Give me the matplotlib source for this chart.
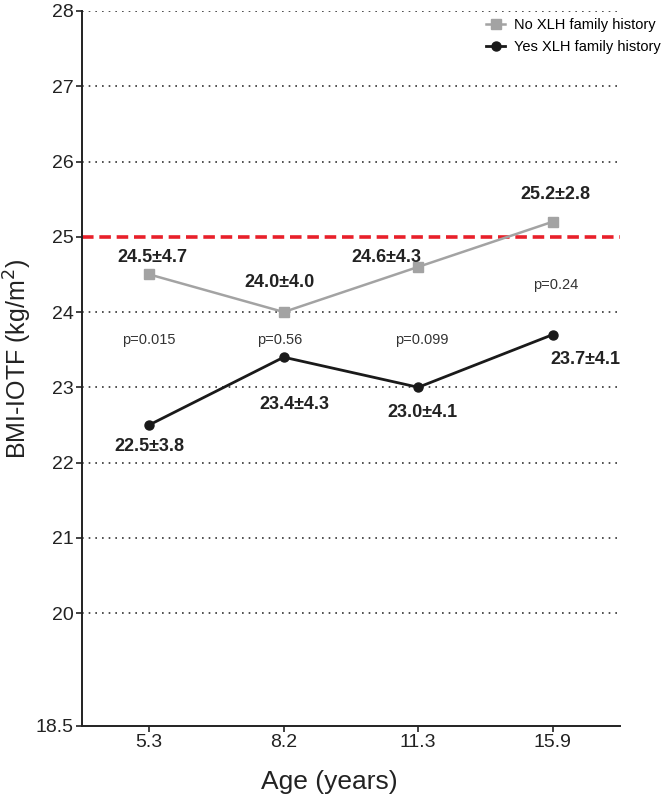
import matplotlib
matplotlib.use("Agg")
import matplotlib.pyplot as plt

plt.rcParams['font.family'] = ['Liberation Sans', 'DejaVu Sans']

ages = ["5.3", "8.2", "11.3", "15.9"]
no_hist = [24.5, 24.0, 24.6, 25.2]
yes_hist = [22.5, 23.4, 23.0, 23.7]
no_labels = ["24.5±4.7", "24.0±4.0", "24.6±4.3", "25.2±2.8"]
yes_labels = ["22.5±3.8", "23.4±4.3", "23.0±4.1", "23.7±4.1"]
p_values = ["p=0.015", "p=0.56", "p=0.099", "p=0.24"]
threshold = 25
y_ticks = [18.5, 20, 21, 22, 23, 24, 25, 26, 27, 28]

# annotation placement (x in category units, y in data units)
no_lab_pos = [(0.02, 24.72), (0.97, 24.39), (1.765, 24.72), (3.02, 25.56)]
yes_lab_pos = [(0.0, 22.21), (1.08, 22.77), (2.03, 22.67), (3.24, 23.37)]
p_pos = [(0.0, 23.63), (0.97, 23.63), (2.03, 23.63), (3.02, 24.36)]

fig = plt.figure(figsize=(6.61, 8.02), dpi=100)
ax = fig.add_axes([0.124, 0.0948, 0.814, 0.8915])

x = list(range(len(ages)))
ax.set_xlim(-0.5, 3.5)
ax.set_ylim(18.5, 28)

for yv in y_ticks[1:]:
    if yv == threshold:
        continue
    ax.axhline(yv, color='#333333', linestyle=(0, (1, 3)), linewidth=1.2, zorder=1)

ax.axhline(threshold, color='#e8202a', linestyle=(0, (3.2, 1.6)), linewidth=2.6, zorder=2)

ax.plot(x, no_hist, color='#a3a3a3', marker='s', markersize=6.5, linewidth=1.8,
        label='No XLH family history', zorder=3)
ax.plot(x, yes_hist, color='#1a1a1a', marker='o', markersize=6.5, linewidth=2.0,
        label='Yes XLH family history', zorder=4)

for (px, py), t in zip(no_lab_pos, no_labels):
    ax.text(px, py, t, ha='center', va='center', fontsize=13, fontweight='bold', color='#222222')
for (px, py), t in zip(yes_lab_pos, yes_labels):
    ax.text(px, py, t, ha='center', va='center', fontsize=13, fontweight='bold', color='#222222')
for (px, py), t in zip(p_pos, p_values):
    ax.text(px, py, t, ha='center', va='center', fontsize=10.5, color='#333333')

ax.set_xticks(x)
ax.set_xticklabels(ages)
ax.set_yticks(y_ticks)
ax.set_yticklabels([("%g" % v) for v in y_ticks])
ax.tick_params(axis='both', labelsize=14, color='#222222', labelcolor='#222222',
               length=4, width=1.2, direction='out', pad=2)
for s in ['top', 'right']:
    ax.spines[s].set_visible(False)
for s in ['left', 'bottom']:
    ax.spines[s].set_linewidth(1.4)
    ax.spines[s].set_color('#222222')

ax.set_xlabel('Age (years)', fontsize=19, color='#222222')
ax.xaxis.set_label_coords(0.459, -0.062)
ax.set_ylabel('BMI-IOTF (kg/m$^2$)', fontsize=18, color='#222222')
ax.yaxis.set_label_coords(-0.090, 0.514)

fig.legend(loc='upper right', bbox_to_anchor=(1.013, 0.988), frameon=False,
           fontsize=10.5, handlelength=1.3, handletextpad=0.6, labelspacing=0.55,
           borderaxespad=0.2)

fig.savefig('out.png', dpi=100)
